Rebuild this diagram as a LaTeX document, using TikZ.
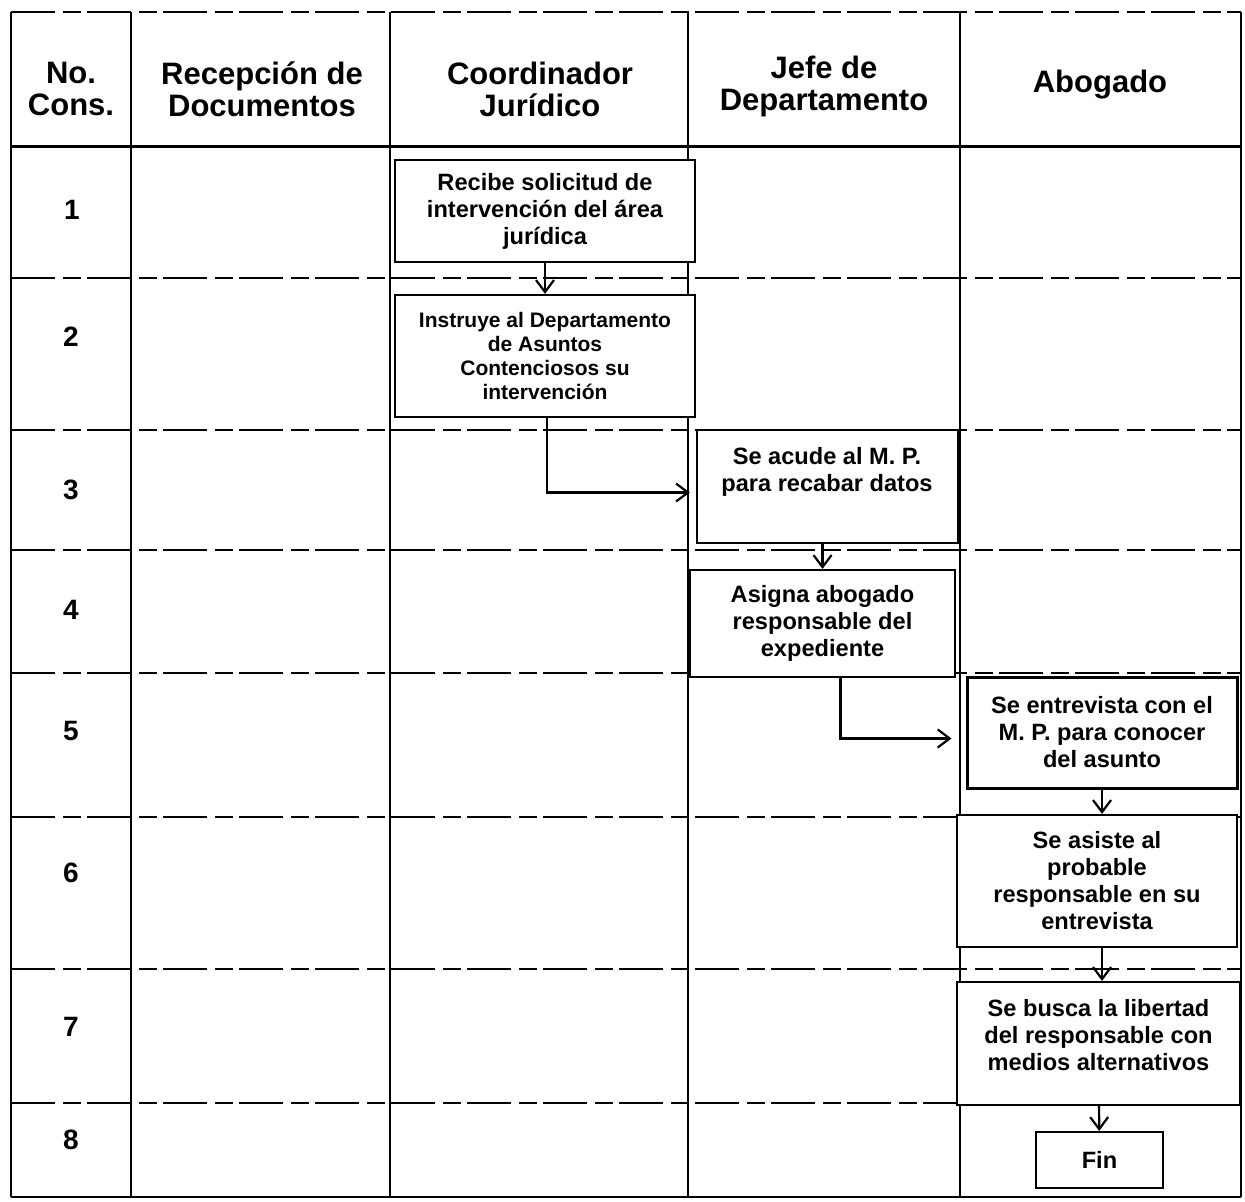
\documentclass[tikz,border=0pt]{standalone}
\usepackage{fontspec}
\setmainfont{Liberation Sans}
\usetikzlibrary{arrows.meta}
\begin{document}
\begin{tikzpicture}[x=0.5pt,y=-0.5pt,
  vline/.style={line width=1.1pt},
  hsep/.style={line width=0.8pt,dash pattern=on 22pt off 4pt on 9pt off 3pt},
  hhead/.style={line width=1.5pt},
  box/.style={draw,fill=white,line width=1.1pt,inner sep=0pt,align=center,font=\bfseries\fontsize{11.8}{13.5}\selectfont},
  txt/.style={align=center,font=\bfseries\fontsize{11.8}{13.5}\selectfont},
  head/.style={align=center,font=\bfseries\fontsize{15.5}{16}\selectfont},
  num/.style={font=\bfseries\fontsize{14}{15}\selectfont},
  arr/.style={line width=1.1pt,-{Straight Barb[length=6pt,width=9pt,line width=1.1pt]}}]
\useasboundingbox (0,0) rectangle (1245,1202);
% grid
\draw[hsep] (11,12) -- (1241,12);
\draw[hhead] (11,147) -- (1241,147);
\foreach \y in {278,430,550,673,817,969,1103} \draw[hsep] (11,\y) -- (1241,\y);
\draw[line width=1.1pt] (11,1197) -- (1241,1197);
\foreach \x in {11,131,390,688,960,1241} \draw[vline] (\x,12) -- (\x,1197);
% headers
\node[head] (h0) at (71,89) {No.\\Cons.};
\node[head] (h1) at (262,89) {Recepción de\\Documentos};
\node[head] (h2) at (540,89) {Coordinador\\Jurídico};
\node[head] (h3) at (824,86) {Jefe de\\Departamento};
\node[head] (h4) at (1100,85) {Abogado};
% numbers
\node[num] (n1) at (72,210) {1};
\node[num] (n2) at (71,337) {2};
\node[num] (n3) at (71,490) {3};
\node[num] (n4) at (71,610) {4};
\node[num] (n5) at (71,731) {5};
\node[num] (n6) at (71,873) {6};
\node[num] (n7) at (71,1027) {7};
\node[num] (n8) at (71,1140) {8};
% boxes
\node[box,minimum width=150pt,minimum height=51pt] (b1) at (545,211) {Recibe solicitud de\\intervención del área\\jurídica};
\node[box,minimum width=150pt,minimum height=61pt,font=\bfseries\fontsize{10.5}{12}\selectfont] (b2) at (545,356) {Instruye al Departamento\\de Asuntos\\Contenciosos su\\intervención};
\node[box,minimum width=130.5pt,minimum height=56.5pt] (b3) at (827.5,486.5) {};
\node[txt] (b3t) at (827,472) {Se acude al M. P.\\para recabar datos};
\node[box,minimum width=132.5pt,minimum height=53.5pt] (b4) at (822.5,623.5) {Asigna abogado\\responsable del\\expediente};
\node[box,minimum width=135pt,minimum height=55.5pt,line width=1.5pt] (b5) at (1102,732.5) {Se entrevista con el\\M. P. para conocer\\del asunto};
\node[box,minimum width=140pt,minimum height=66pt] (b6) at (1097,881) {Se asiste al\\probable\\responsable en su\\entrevista};
\node[box,minimum width=141.5pt,minimum height=61.5pt] (b7) at (1098.5,1043.5) {};
\node[txt] (b7t) at (1098.5,1035) {Se busca la libertad\\del responsable con\\medios alternativos};
\node[box,minimum width=63.5pt,minimum height=28pt] (fin) at (1099.5,1160) {Fin};
% arrows
\draw[arr] (b1) -- (b2);
\draw[arr] ([xshift=1pt]b2.south) |- ([yshift=-3pt,xshift=-3pt]b3.west);
\draw[arr] (b3.south -| b4) -- (b4);
\draw[arr,shorten >=7pt] ([xshift=9pt]b4.south) |- ([yshift=-3pt]b5.west);
\draw[arr] (b5) -- (b5.south |- b6.north);
\draw[arr] (b6.south -| b5.south) -- (b7.north -| b5.south);
\draw[arr] (b7) -- (fin);
\end{tikzpicture}
\end{document}
